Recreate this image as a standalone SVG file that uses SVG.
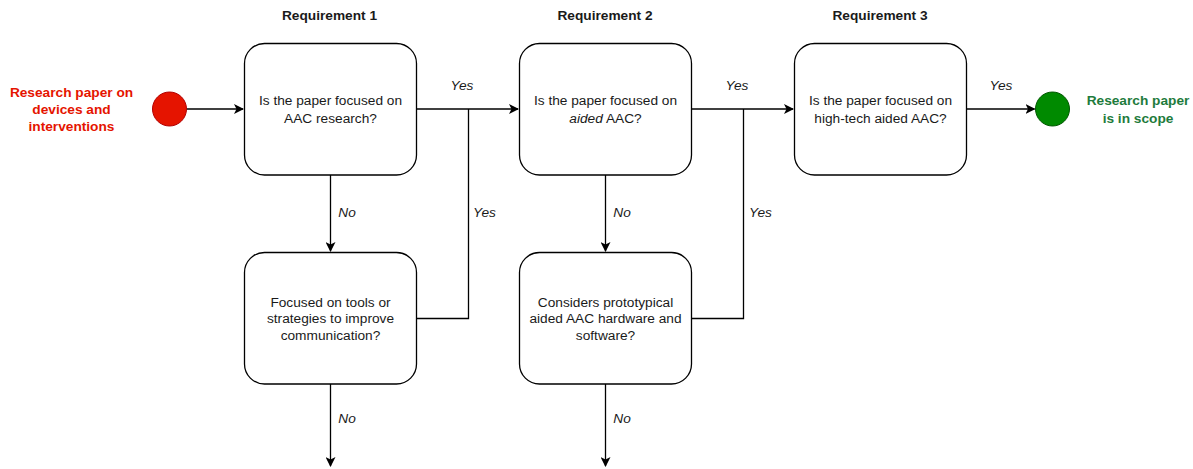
<svg xmlns="http://www.w3.org/2000/svg" width="1193" height="469" viewBox="0 0 1193 469">
<style>
.box{fill:#fff;stroke:#000;stroke-width:1.3}
.t{font-family:"Liberation Sans",Arial,sans-serif;font-size:13.7px;fill:#1a1a1a;text-anchor:middle}
.b{font-weight:bold}
.i{font-style:italic}
.ln{fill:none;stroke:#000;stroke-width:1.3}
</style>
<defs>
<marker id="ah" viewBox="0 0 10 10" refX="9" refY="5" markerWidth="10" markerHeight="10" markerUnits="userSpaceOnUse" orient="auto">
<path d="M0,0 L10,5 L0,10 L2.5,5 Z" fill="#000"/>
</marker>
</defs>
<rect width="1193" height="469" fill="#fff"/>
<g id="headers">
<text class="t b" x="329.5" y="20">Requirement 1</text>
<text class="t b" x="605" y="20">Requirement 2</text>
<text class="t b" x="880" y="20">Requirement 3</text>
</g>
<g id="start">
<circle cx="169.5" cy="109" r="17" fill="#e51400" stroke="#b20000" stroke-width="1"/>
<text class="t b" x="71.5" y="97" style="fill:#e51400">Research paper on</text>
<text class="t b" x="71.5" y="113.5" style="fill:#e51400">devices and</text>
<text class="t b" x="71.5" y="131" style="fill:#e51400">interventions</text>
</g>
<g id="end">
<circle cx="1052.5" cy="109" r="17" fill="#008a00" stroke="#005700" stroke-width="1"/>
<text class="t b" x="1138" y="105" style="fill:#1e7b3c">Research paper</text>
<text class="t b" x="1138" y="123" style="fill:#1e7b3c">is in scope</text>
</g>
<g id="q1">
<rect class="box" x="244.5" y="43.5" width="172" height="131.5" rx="20"/>
<text class="t" x="330.5" y="105">Is the paper focused on</text>
<text class="t" x="330.5" y="123">AAC research?</text>
</g>
<g id="q2">
<rect class="box" x="519.5" y="43.5" width="172" height="131.5" rx="20"/>
<text class="t" x="605.5" y="105">Is the paper focused on</text>
<text class="t" x="605.5" y="123"><tspan class="i">aided</tspan> AAC?</text>
</g>
<g id="q3">
<rect class="box" x="794.5" y="43.5" width="172" height="131.5" rx="20"/>
<text class="t" x="880.5" y="105">Is the paper focused on</text>
<text class="t" x="880.5" y="123">high-tech aided AAC?</text>
</g>
<g id="q1b">
<rect class="box" x="244.5" y="252.5" width="172" height="131.5" rx="20"/>
<text class="t" x="330.5" y="306.5">Focused on tools or</text>
<text class="t" x="330.5" y="323">strategies to improve</text>
<text class="t" x="330.5" y="339.5">communication?</text>
</g>
<g id="q2b">
<rect class="box" x="519.5" y="252.5" width="172" height="131.5" rx="20"/>
<text class="t" x="605.5" y="306.5">Considers prototypical</text>
<text class="t" x="605.5" y="323">aided AAC hardware and</text>
<text class="t" x="605.5" y="339.5">software?</text>
</g>
<g id="connectors">
<path class="ln" d="M187 109 H243" marker-end="url(#ah)"/>
<path class="ln" d="M416.5 109 H518" marker-end="url(#ah)"/>
<path class="ln" d="M691.5 109 H793" marker-end="url(#ah)"/>
<path class="ln" d="M966.5 109 H1034.5" marker-end="url(#ah)"/>
<path class="ln" d="M416.5 318.5 H468.5 V109"/>
<path class="ln" d="M691.5 318.5 H743.5 V109"/>
<path class="ln" d="M330.5 175 V251" marker-end="url(#ah)"/>
<path class="ln" d="M605.5 175 V251" marker-end="url(#ah)"/>
<path class="ln" d="M330.5 384 V466" marker-end="url(#ah)"/>
<path class="ln" d="M605.5 384 V466" marker-end="url(#ah)"/>
</g>
<g id="labels">
<text class="t i" x="462" y="90">Yes</text>
<text class="t i" x="737" y="90">Yes</text>
<text class="t i" x="1001" y="90">Yes</text>
<text class="t i" x="484.5" y="217">Yes</text>
<text class="t i" x="760.5" y="217">Yes</text>
<text class="t i" x="347" y="217">No</text>
<text class="t i" x="622" y="217">No</text>
<text class="t i" x="347" y="423">No</text>
<text class="t i" x="622" y="423">No</text>
</g>
</svg>
